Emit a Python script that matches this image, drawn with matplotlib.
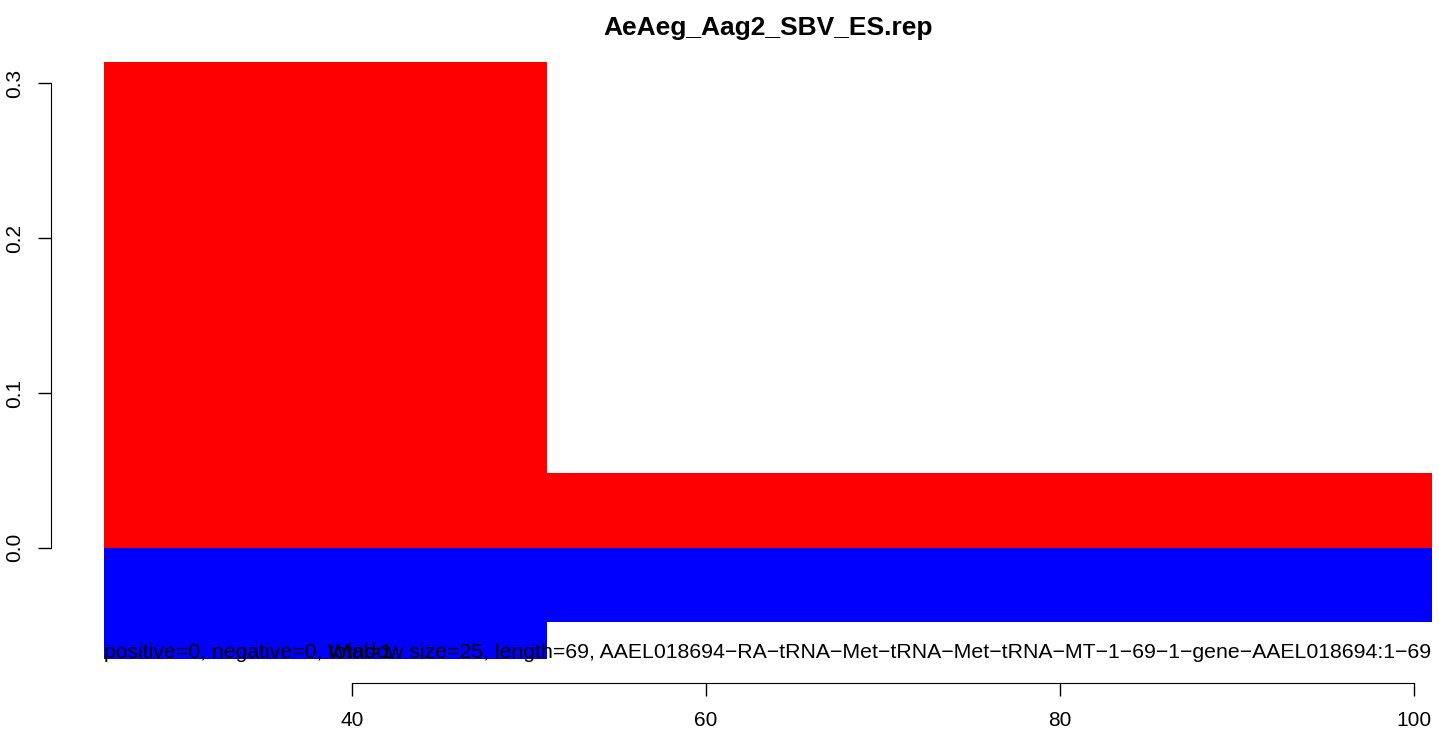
import matplotlib
matplotlib.use("Agg")
import matplotlib.pyplot as plt

plt.rcParams["font.family"] = ["Liberation Sans", "DejaVu Sans"]

# windows (start positions), window size 25
win_start = [26, 51, 76]
win_size = 25
pos_vals = [0.314, 0.0485, 0.0485]
neg_vals = [-0.072, -0.048, -0.048]

title = "AeAeg_Aag2_SBV_ES.rep"
left_note = "positive=0, negative=0, total=1"
right_note = ("Window size=25, length=69, AAEL018694\u2212RA\u2212tRNA\u2212Met\u2212tRNA\u2212Met"
              "\u2212tRNA\u2212MT\u22121\u221269\u22121\u2212gene\u2212AAEL018694:1\u221269")
xticks = [40, 60, 80, 100]
yticks = [0.0, 0.1, 0.2, 0.3]

W, H = 1439, 734
fig = plt.figure(figsize=(W / 100, H / 100), dpi=100)
ax = fig.add_axes([51 / W, (H - 683) / H, (W - 51) / W, (683 - 38.6) / H])

ax.bar(win_start, pos_vals, width=win_size, align="edge", color="red", linewidth=0)
ax.bar(win_start, neg_vals, width=win_size, align="edge", color="blue", linewidth=0)

ax.set_xlim(23, 23 + (W - 51) / 17.7)
ax.set_ylim(-0.0874, 0.329)

ax.text(win_start[0], -0.0675, left_note, ha="left", va="center", fontsize=15.3)
ax.text(win_start[-1] + win_size, -0.0675, right_note, ha="right", va="center", fontsize=15.3)

for s in ["top", "right"]:
    ax.spines[s].set_visible(False)
ax.spines["left"].set_bounds(yticks[0], yticks[-1])
ax.spines["bottom"].set_bounds(xticks[0], xticks[-1])
ax.set_xticks(xticks)
ax.set_yticks(yticks)
ax.set_yticklabels([f"{v:.1f}" for v in yticks], rotation=90, va="center")
ax.tick_params(axis="both", length=9.5, width=1, labelsize=15)
ax.tick_params(axis="x", pad=11)
ax.tick_params(axis="y", pad=10)

fig.text(768 / W, 1 - 28 / H, title, ha="center", va="center", fontsize=19, fontweight="bold")

fig.savefig("out.png", dpi=100)
